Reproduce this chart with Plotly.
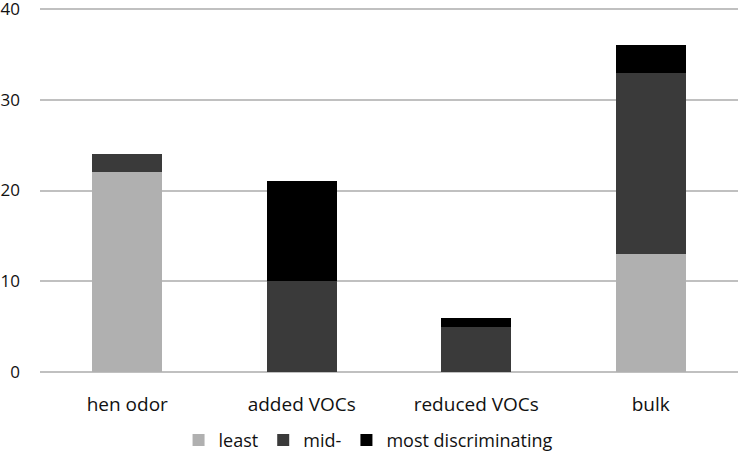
import plotly.graph_objects as go

categories = ["hen odor", "added VOCs", "reduced VOCs", "bulk"]
least = [22, 0, 0, 13]
mid = [2, 10, 5, 20]
most = [0, 11, 1, 3]
series_names = ["least", "mid-", "most discriminating"]
y_ticks = [0, 10, 20, 30, 40]

colors = ["#b0b0b0", "#3a3a3a", "#000000"]

fig = go.Figure()
for name, vals, c in zip(series_names, [least, mid, most], colors):
    fig.add_trace(go.Bar(x=categories, y=vals, name=name, marker=dict(color=c, line=dict(width=0))))

font = dict(family="Open Sans, Lato, sans-serif", size=19, color="#111111")
fig.update_layout(
    barmode="stack",
    bargap=0.6,
    width=740, height=461,
    margin=dict(l=40, r=2, t=7, b=89, autoexpand=False),
    plot_bgcolor="white", paper_bgcolor="white",
    font=font,
    showlegend=True,
    legend=dict(orientation="h", x=0.47, xanchor="center", y=-0.187, yanchor="middle",
                font=dict(size=18), traceorder="normal", itemwidth=30),
    xaxis=dict(showgrid=False, showline=False, ticks="", ticklabelstandoff=19,
               tickfont=dict(size=19), automargin=False),
    yaxis=dict(range=[0, 40.22], tickvals=y_ticks, showgrid=True, gridcolor="#c0c0c0", gridwidth=1.5,
               zeroline=True, zerolinecolor="#c0c0c0", zerolinewidth=1.5, showline=False,
               ticks="", ticklabelstandoff=19, tickfont=dict(size=17), automargin=False,
               ticklabeloverflow="allow"),
)

fig.write_html("out.html", config={"displayModeBar": False},
               post_script="document.body.style.margin='0px';")
